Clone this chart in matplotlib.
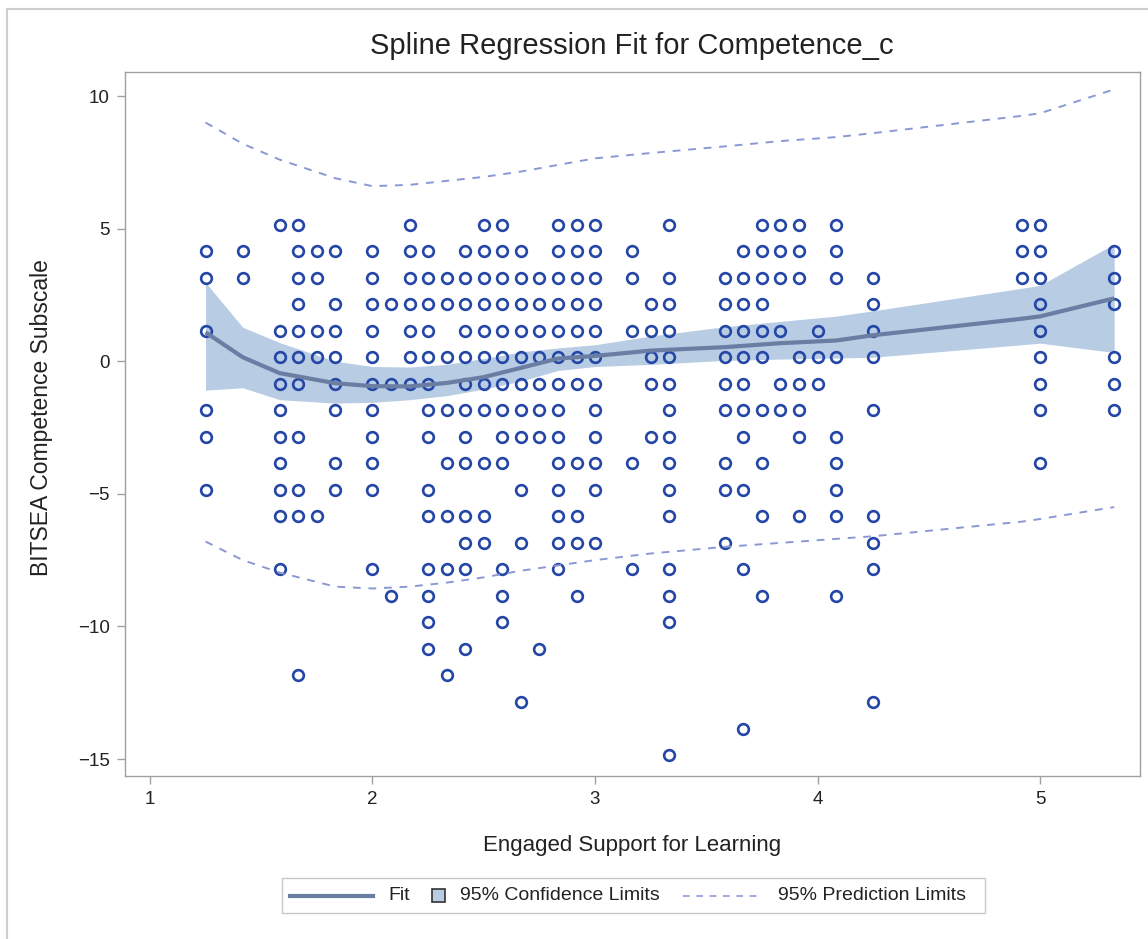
import numpy as np
import matplotlib.pyplot as plt
from matplotlib import font_manager
from matplotlib.lines import Line2D
from matplotlib.patches import Rectangle

# Engaged Support for Learning: the distinct values seen in the data
support_cols = [1.25, 1.417, 1.583, 1.667, 1.75, 1.833, 2.0, 2.083, 2.167, 2.25,
                2.333, 2.417, 2.5, 2.583, 2.667, 2.75, 2.833, 2.917, 3.0, 3.167,
                3.25, 3.333, 3.583, 3.667, 3.75, 3.833, 3.917, 4.0, 4.083, 4.25,
                4.917, 5.0, 5.333]

# competence scores (whole points) plotted at each support value
competence_rows = [
    [4, 3, 1, -2, -3, -5],
    [4, 3],
    [5, 1, 0, -1, -2, -3, -4, -5, -6, -8],
    [5, 4, 3, 2, 1, 0, -1, -3, -5, -6, -12],
    [4, 3, 1, 0, -6],
    [4, 2, 1, 0, -1, -2, -4, -5],
    [4, 3, 2, 1, 0, -1, -2, -3, -4, -5, -8],
    [2, -1, -9],
    [5, 4, 3, 2, 1, 0, -1],
    [4, 3, 2, 1, 0, -1, -2, -3, -5, -6, -8, -9, -10, -11],
    [3, 2, 0, -2, -4, -6, -8, -12],
    [4, 3, 2, 1, 0, -1, -2, -3, -4, -6, -7, -8, -11],
    [5, 4, 3, 2, 1, 0, -1, -2, -4, -6, -7],
    [5, 4, 3, 2, 1, 0, -1, -2, -3, -4, -8, -9, -10],
    [4, 3, 2, 1, 0, -1, -2, -3, -5, -7, -13],
    [3, 2, 1, 0, -1, -2, -3, -11],
    [5, 4, 3, 2, 1, 0, -1, -2, -3, -4, -5, -6, -7, -8],
    [5, 4, 3, 2, 1, 0, -1, -4, -6, -7, -9],
    [5, 4, 3, 2, 1, 0, -1, -2, -3, -4, -5, -7],
    [4, 3, 1, -4, -8],
    [2, 1, 0, -1, -3],
    [5, 3, 2, 1, 0, -1, -2, -3, -4, -5, -6, -8, -9, -10, -15],
    [3, 2, 1, 0, -1, -2, -4, -5, -7],
    [4, 3, 2, 1, 0, -1, -2, -3, -5, -8, -14],
    [5, 4, 3, 2, 1, 0, -2, -4, -6, -9],
    [5, 4, 3, 1, -1, -2],
    [5, 4, 3, 0, -1, -2, -3, -6],
    [1, 0, -1],
    [5, 4, 3, 0, -3, -4, -5, -6, -9],
    [3, 2, 1, 0, -2, -6, -7, -8, -13],
    [5, 4, 3],
    [5, 4, 3, 2, 1, 0, -1, -2, -4],
    [4, 3, 2, 0, -1, -2],
]
centre_shift = 0.15  # Competence_c is mean-centred, so rows sit just above the integers

# spline fit and limits
knot_x = [1.25, 1.417, 1.583, 1.833, 2.0, 2.167, 2.333, 2.5, 2.667, 2.833, 3.0,
          3.25, 3.583, 3.833, 4.083, 4.25, 4.917, 5.0, 5.333]
fit_y = [1.09, 0.15, -0.45, -0.83, -0.94, -0.95, -0.82, -0.6, -0.25, 0.1, 0.2,
         0.4, 0.53, 0.68, 0.78, 0.98, 1.6, 1.69, 2.37]
clm_upper = [2.97, 1.28, 0.7, 0.0, -0.2, -0.22, -0.12, 0.1, 0.35, 0.5, 0.62,
             0.95, 1.3, 1.5, 1.7, 1.9, 2.75, 2.86, 4.42]
clm_lower = [-1.09, -1.0, -1.45, -1.58, -1.55, -1.45, -1.3, -1.05, -0.75, -0.35, -0.2,
             -0.12, 0.03, 0.08, 0.12, 0.15, 0.62, 0.68, 0.33]
plm_upper = [9.0, 8.2, 7.6, 6.9, 6.6, 6.65, 6.8, 6.95, 7.15, 7.4, 7.65,
             7.85, 8.1, 8.3, 8.45, 8.6, 9.25, 9.35, 10.25]
plm_lower = [-6.8, -7.5, -7.97, -8.5, -8.57, -8.5, -8.35, -8.15, -7.9, -7.7, -7.5,
             -7.25, -7.0, -6.85, -6.7, -6.6, -6.05, -5.95, -5.5]

names = {f.name for f in font_manager.fontManager.ttflist}
plt.rcParams['font.family'] = 'Liberation Sans' if 'Liberation Sans' in names else 'DejaVu Sans'

pt_x, pt_y = [], []
for x, rows in zip(support_cols, competence_rows):
    for r in rows:
        pt_x.append(x)
        pt_y.append(r + centre_shift)

fit_col = '#6a7da3'
band_col = '#b8cce4'
mark_col = '#2446a6'
pred_col = '#8b98d4'
frame_col = '#a0a0a0'
text_col = '#222222'

W, H = 1148, 939
fig = plt.figure(figsize=(W / 100, H / 100), dpi=100)
ax = fig.add_axes([125 / W, 1 - 776 / H, 1015 / W, 704 / H])

ax.fill_between(knot_x, clm_lower, clm_upper, color=band_col, lw=0, zorder=1)
ax.plot(pt_x, pt_y, 'o', ms=7.7, mfc='none', mec=mark_col, mew=1.9, zorder=2)
ax.plot(knot_x, fit_y, color=fit_col, lw=3, zorder=3, solid_capstyle='butt')
ax.plot(knot_x, plm_upper, color=pred_col, lw=1.4, ls=(0, (4, 4)), zorder=3)
ax.plot(knot_x, plm_lower, color=pred_col, lw=1.4, ls=(0, (4, 4)), zorder=3)

ax.set_xlim(0.888, 5.449)
ax.set_ylim(-15.64, 10.905)
ax.set_xticks([1, 2, 3, 4, 5])
ax.set_yticks([10, 5, 0, -5, -10, -15])
ax.set_yticklabels(['10', '5', '0', '\u22125', '\u221210', '\u221215'])
ax.tick_params(direction='out', length=6, width=1, color=frame_col,
               labelsize=13.5, labelcolor=text_col, pad=5)
for s in ax.spines.values():
    s.set_color(frame_col)
    s.set_linewidth(1)

fig.text(632 / W, 1 - 46 / H, 'Spline Regression Fit for Competence_c',
         ha='center', va='center', fontsize=21, color=text_col)
fig.text(632 / W, 1 - 845 / H, 'Engaged Support for Learning',
         ha='center', va='center', fontsize=16, color=text_col)
fig.text(42 / W, 1 - 418 / H, 'BITSEA Competence Subscale', rotation=90,
         ha='center', va='center', fontsize=16.5, color=text_col)

# legend drawn in pixel positions below the axes
def px(x, y):
    return x / W, 1 - y / H

ly = 895.5
fig.add_artist(Rectangle(px(282, 913), 703 / W, 35 / H, transform=fig.transFigure,
                         fill=False, edgecolor='#c8c8c8', lw=1))
fig.add_artist(Line2D([290 / W, 373 / W], [1 - ly / H] * 2, color=fit_col, lw=3,
                      transform=fig.transFigure))
fig.text(*px(388, ly), 'Fit', ha='left', va='center', fontsize=14, color=text_col)
fig.add_artist(Rectangle(px(432, 902), 13 / W, 13 / H, transform=fig.transFigure,
                         facecolor=band_col, edgecolor='#333333', lw=1.2))
fig.text(*px(460, ly), '95% Confidence Limits', ha='left', va='center',
         fontsize=14, color=text_col)
fig.add_artist(Line2D([683 / W, 760 / W], [1 - ly / H] * 2, color=pred_col, lw=1.2,
                      ls=(0, (4, 4)), transform=fig.transFigure))
fig.text(*px(778, ly), '95% Prediction Limits', ha='left', va='center',
         fontsize=14, color=text_col)

# light border round the whole graph
fig.add_artist(Rectangle((7 / W, -0.05), 1.2, 1 - 9 / H + 0.05, transform=fig.transFigure,
                         fill=False, edgecolor='#cfcfcf', lw=1.5))

fig.savefig('out.png', dpi=100)
